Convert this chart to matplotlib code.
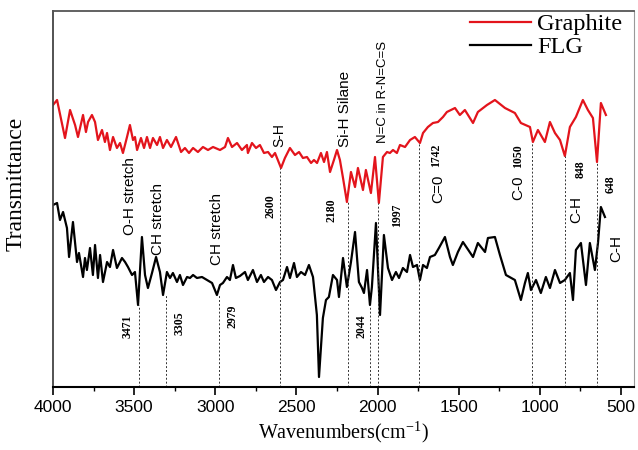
"""FTIR spectra of Graphite and FLG with band assignments."""

import matplotlib
matplotlib.use('Agg')
import matplotlib.pyplot as plt
from matplotlib.ticker import MultipleLocator

# Graphite spectrum (wavenumber cm-1, transmittance a.u.)
graphite_wn = [4000, 3975, 3926, 3895, 3864, 3846, 3815, 3797, 3784, 3760, 3741, 3723,
               3698, 3680, 3667, 3649, 3630, 3606, 3587, 3569, 3544, 3526, 3507, 3495,
               3482, 3458, 3439, 3421, 3402, 3384, 3359, 3341, 3322, 3298, 3273, 3242,
               3211, 3187, 3162, 3137, 3107, 3076, 3045, 3014, 2971, 2940, 2922, 2897,
               2866, 2836, 2805, 2799, 2774, 2749, 2725, 2700, 2675, 2651, 2632, 2595,
               2571, 2540, 2509, 2484, 2460, 2435, 2410, 2392, 2373, 2349, 2330, 2312,
               2293, 2269, 2250, 2232, 2213, 2189, 2164, 2139, 2121, 2090, 2072, 2041,
               2016, 1992, 1967, 1942, 1924, 1905, 1881, 1862, 1831, 1800, 1770, 1739,
               1720, 1690, 1659, 1628, 1597, 1573, 1523, 1493, 1462, 1412, 1382, 1326,
               1277, 1215, 1154, 1117, 1061, 1043, 1012, 969, 938, 907, 876, 846,
               815, 778, 735, 704, 673, 648, 624, 593]
graphite_t = [282, 287, 249, 277, 262, 250, 272, 255, 265, 272, 265, 247,
              257, 245, 254, 237, 250, 239, 244, 234, 250, 262, 247, 250,
              237, 249, 239, 250, 239, 249, 242, 250, 239, 247, 240, 250,
              235, 239, 234, 239, 235, 240, 237, 240, 237, 240, 249, 240,
              244, 237, 242, 234, 244, 239, 242, 234, 235, 230, 234, 219,
              229, 239, 232, 235, 229, 230, 224, 227, 224, 234, 225, 235,
              215, 227, 237, 227, 209, 185, 215, 200, 219, 197, 217, 194,
              230, 184, 230, 235, 234, 237, 234, 242, 240, 247, 250, 244,
              254, 260, 264, 265, 270, 275, 279, 272, 277, 264, 275, 282,
              287, 279, 274, 264, 260, 245, 257, 245, 265, 254, 247, 231,
              260, 270, 287, 277, 269, 225, 284, 272]

# FLG spectrum
flg_wn = [4000, 3975, 3957, 3938, 3914, 3901, 3877, 3852, 3840, 3815, 3803, 3791,
          3772, 3754, 3741, 3723, 3710, 3692, 3667, 3649, 3630, 3606, 3575, 3556,
          3538, 3513, 3495, 3476, 3452, 3433, 3415, 3390, 3365, 3341, 3322, 3298,
          3279, 3261, 3236, 3218, 3199, 3174, 3156, 3137, 3113, 3082, 3051, 3020,
          2990, 2971, 2953, 2928, 2910, 2891, 2873, 2848, 2817, 2799, 2768, 2743,
          2719, 2700, 2675, 2651, 2626, 2601, 2583, 2558, 2540, 2515, 2497, 2472,
          2447, 2423, 2398, 2374, 2361, 2337, 2318, 2300, 2275, 2250, 2238, 2213,
          2189, 2164, 2139, 2115, 2096, 2084, 2065, 2047, 2035, 2010, 1985, 1961,
          1936, 1911, 1887, 1868, 1844, 1819, 1800, 1782, 1757, 1739, 1720, 1696,
          1677, 1647, 1622, 1585, 1554, 1536, 1505, 1474, 1412, 1382, 1338, 1320,
          1277, 1246, 1209, 1154, 1117, 1092, 1074, 1055, 1024, 994, 963, 938,
          907, 876, 846, 815, 796, 778, 747, 716, 692, 661, 642, 624,
          599]
flg_t = [182, 184, 167, 175, 159, 130, 165, 125, 134, 110, 129, 117,
         139, 112, 142, 109, 132, 105, 125, 120, 137, 119, 129, 125,
         120, 112, 115, 82, 150, 112, 99, 114, 130, 115, 92, 115,
         109, 114, 105, 112, 102, 110, 109, 112, 109, 110, 107, 104,
         92, 102, 104, 110, 107, 122, 109, 111, 115, 107, 117, 105,
         112, 105, 110, 107, 97, 105, 107, 120, 109, 124, 110, 115,
         112, 122, 110, 72, 10, 69, 87, 90, 112, 107, 90, 129,
         100, 125, 155, 105, 99, 94, 117, 82, 100, 164, 72, 152,
         119, 107, 115, 109, 119, 115, 132, 120, 122, 107, 122, 119,
         130, 132, 139, 150, 130, 122, 135, 145, 130, 144, 135, 149,
         150, 132, 112, 107, 87, 104, 114, 97, 107, 94, 110, 99,
         117, 104, 107, 114, 87, 137, 144, 102, 144, 117, 144, 180,
         170]

# marked bands: wavenumber and the height where the dashed guide starts
band_wn = [3471, 3305, 2979, 2600, 2180, 2044, 1997, 1742, 1050, 848, 648]
band_top = [82, 92, 92, 219, 185, 82, 184, 244, 245, 231, 225]

plt.rcParams['mathtext.default'] = 'regular'

fig = plt.figure(figsize=(6.38, 4.5), dpi=100)
ax = fig.add_axes([53/638, 63/450, 581/638, 376/450])

ax.plot(graphite_wn, graphite_t, color='#e3141c', lw=1.6, label='Graphite')
ax.plot(flg_wn, flg_t, color='black', lw=1.6, label='FLG')

ax.vlines(band_wn, 0, band_top, colors='#333333', lw=0.7, linestyles=(0, (2, 2)))

sans = 'Liberation Sans'
serif = 'Liberation Serif'
# sans-serif group labels
labels = [
    ('O-H stretch', 3526, 152, 11),
    ('CH stretch', 3353, 132, 11),
    ('CH stretch', 2990, 122, 11),
    ('S-H', 2608, 240, 10),
    ('Si-H Silane', 2201, 240, 11),
    ('N=C in R-N=C=S', 1967, 244, 9.5),
    ('C=0', 1628, 184, 11),
    ('C-0', 1135, 187, 11),
    ('C-H', 778, 164, 11),
    ('C-H', 531, 125, 11),
]
for txt, x, y, fs in labels:
    ax.text(x, y, txt, rotation=90, ha='center', va='bottom', fontsize=fs, family=sans)

# serif numbers
nums = [
    ('3471', 3538, 49), ('3305', 3218, 52), ('2979', 2891, 59), ('2600', 2657, 169),
    ('2180', 2287, 165), ('2044', 2102, 49), ('1997', 1881, 160), ('1742', 1640, 220),
    ('1050', 1135, 219), ('848', 747, 209), ('648', 562, 194),
]
for txt, x, y in nums:
    ax.text(x, y, txt, rotation=90, ha='center', va='bottom', fontsize=8.5,
            family=serif, fontweight='bold')

ax.set_xlim(4000, 420)
ax.set_ylim(0, 376)
ax.set_yticks([])
ax.xaxis.set_major_locator(MultipleLocator(500))
ax.xaxis.set_minor_locator(MultipleLocator(250))
ax.tick_params(axis='x', which='major', direction='out', length=6, width=1.2, labelsize=12.5)
ax.tick_params(axis='x', which='minor', direction='out', length=3, width=1.0)
for lab in ax.get_xticklabels():
    lab.set_family(sans)

ax.spines['bottom'].set_linewidth(1.5)
ax.spines['left'].set_color('#444444')
ax.spines['left'].set_linewidth(1.3)
ax.spines['top'].set_color('#555555')
ax.spines['top'].set_linewidth(1.3)
ax.spines['right'].set_color('#999999')
ax.spines['right'].set_linewidth(0.8)

ax.set_xlabel('Wavenumbers(cm$^{-1}$)', family=serif, fontsize=14.5, labelpad=3)
ax.set_ylabel('Transmittance', family=serif, fontsize=17)
ax.yaxis.set_label_coords(-0.046, 0.54)

ax.legend(loc='upper right', bbox_to_anchor=(622/638, 437/450), bbox_transform=fig.transFigure,
          frameon=False, prop={'family': serif, 'size': 17.5}, handlelength=2.5,
          handletextpad=0.25, labelspacing=0.05, borderaxespad=0, borderpad=0)

fig.savefig('out.png', dpi=100)
